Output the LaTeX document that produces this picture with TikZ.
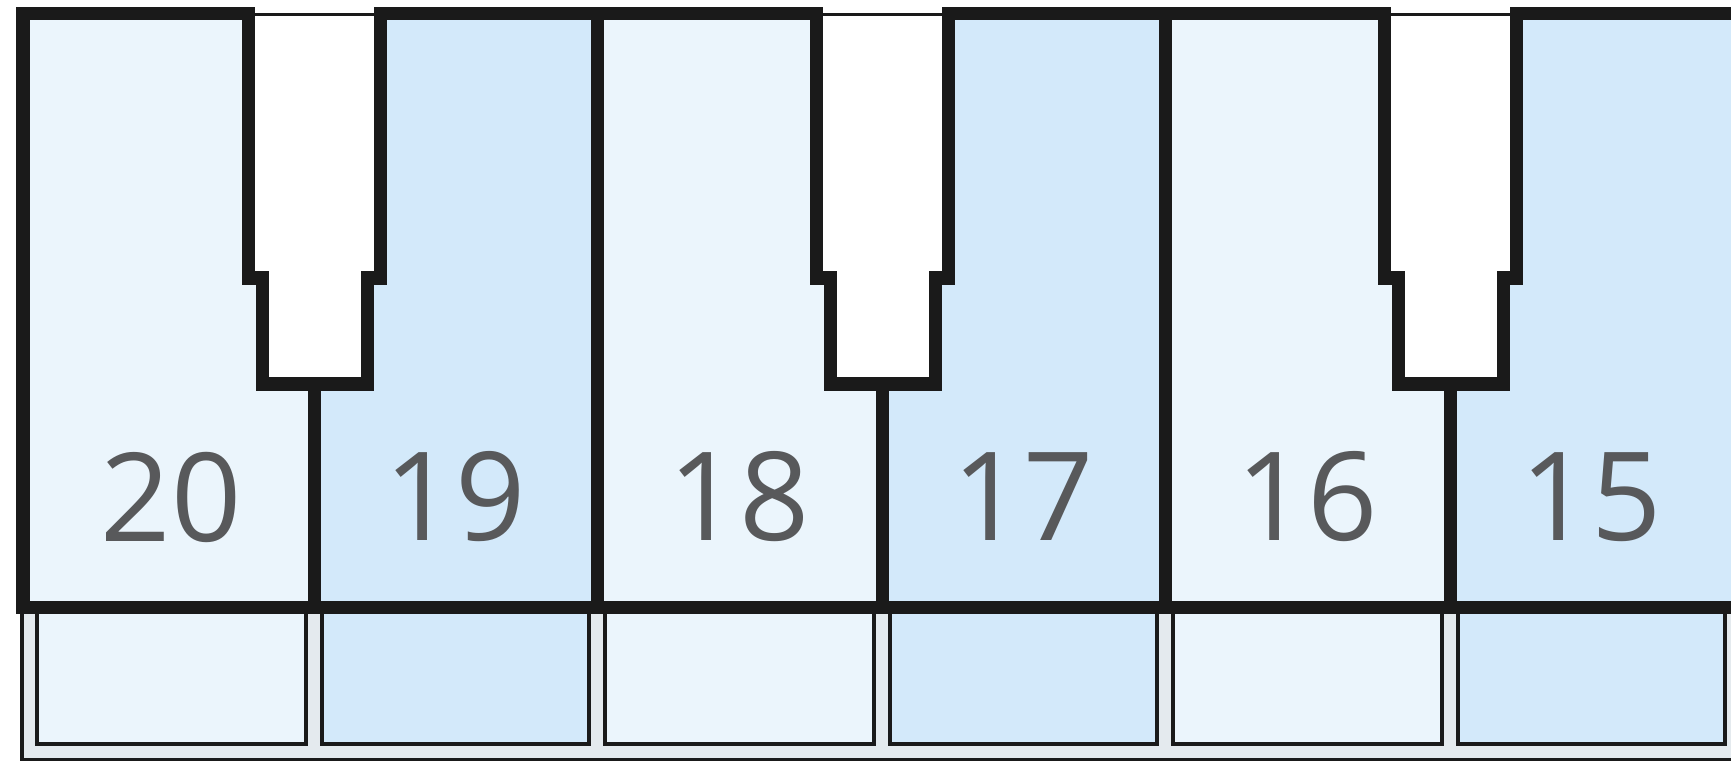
\documentclass[tikz,border=0pt]{standalone}
\usepackage{fontspec}
\setmainfont{Open Sans}
\definecolor{keylight}{HTML}{EBF5FC}
\definecolor{keydark}{HTML}{D3E9FA}
\definecolor{stripgray}{HTML}{E4EAEE}
\definecolor{numgray}{HTML}{58595B}
\definecolor{inkblack}{HTML}{1A1A1A}
\begin{document}
\begin{tikzpicture}[x=0.01cm,y=-0.01cm,every node/.style={inner sep=0pt}]
\tikzstyle{keyline}=[draw=inkblack,line width=0.13cm,line join=miter]
\tikzstyle{thinline}=[draw=inkblack,line width=0.03cm]
\tikzstyle{boxline}=[draw=inkblack,line width=0.04cm]
\tikzstyle{num}=[text=numgray,font=\fontsize{35}{40}\selectfont]
\useasboundingbox (0,0) rectangle (1731,761);

\fill[stripgray] (22,607) rectangle (1731,759);
\foreach \d [evaluate=\d as \m using \d+285] in {29,597,1165}{
  \fill[keylight] (\d,14) rectangle (\m,607);
  \fill[keydark] (\m,14) rectangle (\d+568,607);
  \fill[white] (\m-66,14) -- (\m-66,278) -- (\m-52,278) -- (\m-52,384)
    -- (\m+53,384) -- (\m+53,278) -- (\m+66,278) -- (\m+66,14) -- cycle;
  \filldraw[keylight,boxline] (\d+8,607) rectangle (\m-8,744);
  \filldraw[keydark,boxline] (\m+8,607) rectangle (\d+560,744);
}
\draw[thinline] (23,15) -- (1731,15);
\draw[thinline] (22,607) -- (22,759) -- (1731,759);

\foreach \d [evaluate=\d as \m using \d+285] in {29,597,1165}{
  \draw[keyline] (\d,14) -- (\m-66,14) -- (\m-66,278) -- (\m-52,278) -- (\m-52,384)
    -- (\m+53,384) -- (\m+53,278) -- (\m+66,278) -- (\m+66,14) -- (\d+568,14);
  \draw[keyline] (\m,384) -- (\m,607);
}
\draw[keyline] (23,607) -- (23,14) -- (29,14);
\draw[keyline] (597,14) -- (597,607);
\draw[keyline] (1165,14) -- (1165,607);
\draw[keyline] (16,607) -- (1731,607);

\foreach \n [count=\k from 0] in {20,19,18,17,16,15}
  \node[num] (lbl\n) at ({171+284*\k},497) {\n};
\end{tikzpicture}
\end{document}
